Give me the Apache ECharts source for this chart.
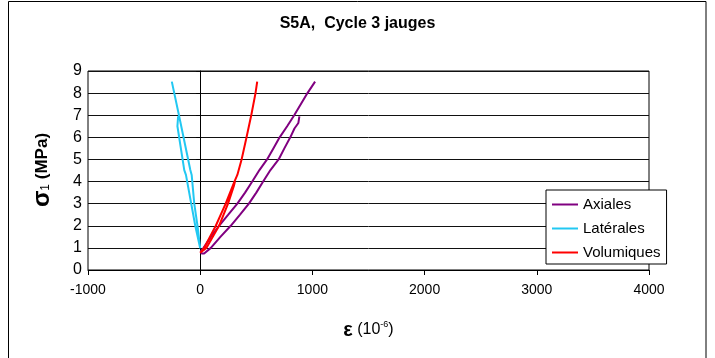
<!DOCTYPE html>
<html><head><meta charset="utf-8">
<script src="https://cdn.jsdelivr.net/npm/echarts@6.0.0/dist/echarts.min.js"></script>
<style>html,body{margin:0;padding:0;background:#fff}#c{width:715px;height:358px}</style>
</head><body><div id="c"></div><script>
// Data: [strain (1e-6), sigma1 (MPa)]
const seriesNames = ['Axiales', 'Latérales', 'Volumiques'];
const axiales = [
  [884, 6.95], [888, 6.9], [875, 6.65], [840, 6.4], [803, 6.0], [750, 5.5], [699, 5.0], [626, 4.52], [561, 4.0],
  [500, 3.5], [434, 3.0], [355, 2.5], [272, 2.0], [180, 1.5], [95, 1.0], [35, 0.75], [12, 0.75], [5, 0.85],
  [30, 1.0], [95, 1.5], [168, 2.0], [250, 2.5], [331, 3.0], [400, 3.5], [464, 4.0], [528, 4.52], [596, 5.0],
  [652, 5.5], [708, 6.0], [775, 6.5], [838, 7.0], [956, 8.0], [1024, 8.52]
];
const laterales = [
  [-197, 6.95], [-210, 6.92], [-203, 6.5], [-142, 4.52], [-127, 4.3], [-44, 2.0], [0, 0.98],
  [-24, 2.0], [-53, 3.0], [-76, 4.3], [-88, 4.52], [-187, 6.94], [-253, 8.52]
];
const volumiques = [
  [508, 8.52], [493, 8.0], [455, 7.0], [413, 6.0], [369, 5.0], [331, 4.3], [305, 4.0],
  [227, 3.0], [139, 2.0], [35, 1.0], [0, 0.78], [12, 0.75], [55, 1.0], [168, 2.0],
  [248, 3.0], [300, 3.8], [310, 4.0]
];
const xMin = -1000, xMax = 4000, xStep = 1000;
const yMin = 0, yMax = 9, yStep = 1;
const colors = ['#800080', '#22C8F2', '#FF0000'];

const chart = echarts.init(document.getElementById('c'));
const font = 'Liberation Sans, Arial, sans-serif';
chart.setOption({
  animation: false,
  backgroundColor: '#fff',
  title: {
    text: 'S5A,  Cycle 3 jauges', left: 'center', top: 11,
    textStyle: { fontFamily: font, fontSize: 16, fontWeight: 'bold', color: '#000' }
  },
  grid: { left: 88, right: 66, top: 71, bottom: 88, show: true, borderColor: '#000', borderWidth: 1 },
  legend: {
    data: seriesNames, orient: 'vertical', left: 546, top: 190,
    itemWidth: 26, itemHeight: 2, icon: 'rect', itemGap: 9,
    padding: [7, 6, 4, 6], borderColor: '#000', borderWidth: 1, backgroundColor: '#fff',
    textStyle: { fontFamily: font, fontSize: 15, color: '#000' }
  },
  xAxis: {
    type: 'value', min: xMin, max: xMax, interval: xStep,
    axisLine: { show: true, onZero: false, lineStyle: { color: '#000', width: 1 } },
    axisTick: { show: true, length: 5, lineStyle: { color: '#000' } },
    axisLabel: { fontFamily: font, fontSize: 14, color: '#000', margin: 13, formatter: v => String(v) },
    splitLine: { show: false },
    name: '{e|ε}{t| (10}{sup|-6}{t|)}', nameLocation: 'middle', nameGap: 50,
    nameTextStyle: {
      rich: {
        e: { fontFamily: font, fontSize: 20, fontWeight: 'bold', color: '#000' },
        t: { fontFamily: font, fontSize: 16, color: '#000' },
        sup: { fontFamily: font, fontSize: 9, color: '#000', verticalAlign: 'top', padding: [0, 0, 8, 0] }
      }
    }
  },
  yAxis: {
    type: 'value', min: yMin, max: yMax, interval: yStep,
    axisLine: { show: true, onZero: true, lineStyle: { color: '#000', width: 1 } },
    axisTick: { show: true, length: 4, lineStyle: { color: '#000' } },
    axisLabel: { fontFamily: font, fontSize: 16, color: '#000', margin: 6 },
    splitLine: { show: true, lineStyle: { color: '#111', width: 1 } }
  },
  graphic: [
    { type: 'rect', silent: true, z: -10, shape: { x: 8.5, y: 1.5, width: 697.5, height: 420 },
      style: { fill: 'none', stroke: '#000', lineWidth: 1 } },
    { type: 'text', x: 42, y: 170, rotation: Math.PI / 2,
      style: {
        text: '{s|σ}{sub|1}{b| (MPa)}', align: 'center', verticalAlign: 'middle',
        rich: {
          s: { fontFamily: font, fontSize: 24, fontWeight: 'bold', fill: '#000' },
          sub: { fontFamily: font, fontSize: 12, fill: '#000', padding: [8, 0, 0, 0] },
          b: { fontFamily: font, fontSize: 17, fontWeight: 'bold', fill: '#000' }
        }
      } }
  ],
  series: [
    { name: seriesNames[0], type: 'line', data: axiales, showSymbol: false, symbol: 'none',
      lineStyle: { color: colors[0], width: 2 }, itemStyle: { color: colors[0] } },
    { name: seriesNames[1], type: 'line', data: laterales, showSymbol: false, symbol: 'none',
      lineStyle: { color: colors[1], width: 2 }, itemStyle: { color: colors[1] } },
    { name: seriesNames[2], type: 'line', data: volumiques, showSymbol: false, symbol: 'none',
      lineStyle: { color: colors[2], width: 2 }, itemStyle: { color: colors[2] } }
  ]
});
</script></body></html>
